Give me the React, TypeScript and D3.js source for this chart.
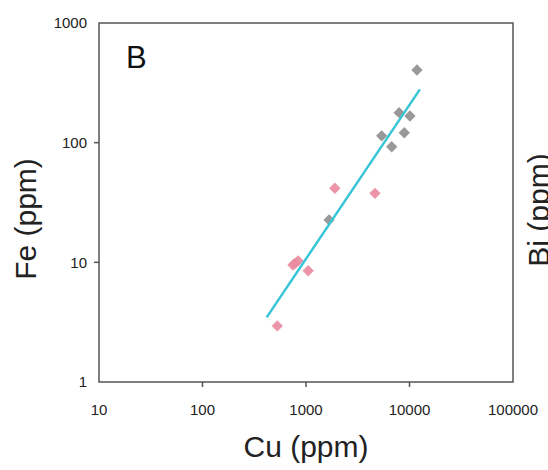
import React, { useEffect, useRef } from 'react';
import * as d3 from 'd3';

// Cu vs Fe (ppm), panel B
const grayCu = [11800, 7930, 10100, 8900, 5380, 6730, 1670];
const grayFe = [405, 178, 167, 121, 114, 92.5, 22.6];
const pinkCu = [1900, 4640, 748, 838, 783, 1050, 528];
const pinkFe = [41.6, 37.7, 9.5, 10.3, 9.8, 8.5, 2.94];
// power-law fit endpoints
const fitCu = [417, 12600];
const fitFe = [3.47, 279];

const xTicks = [10, 100, 1000, 10000, 100000];
const yTicks = [1, 10, 100, 1000];

const App = () => {
  const svgRef = useRef<SVGSVGElement>(null);

  useEffect(() => {
    const width = 548;
    const height = 470;
    const margin = { top: 23, right: 35, bottom: 88, left: 99 };

    const svg = d3.select(svgRef.current);
    svg.selectAll('*').remove();
    svg.attr('width', width).attr('height', height);

    const x = d3.scaleLog().domain([10, 100000]).range([margin.left, width - margin.right]);
    const y = d3.scaleLog().domain([1, 1000]).range([height - margin.bottom, margin.top]);

    const font = 'Liberation Sans, Arial, sans-serif';
    const axisColor = '#555';

    // frame
    svg.append('rect')
      .attr('x', x(10))
      .attr('y', y(1000))
      .attr('width', x(100000) - x(10))
      .attr('height', y(1) - y(1000))
      .attr('fill', 'none')
      .attr('stroke', axisColor)
      .attr('stroke-width', 1.5);

    // x ticks (interior only) + labels
    xTicks.forEach((t, i) => {
      if (i > 0 && i < xTicks.length - 1) {
        svg.append('line')
          .attr('x1', x(t)).attr('x2', x(t))
          .attr('y1', y(1)).attr('y2', y(1) + 5)
          .attr('stroke', axisColor).attr('stroke-width', 1.5);
      }
      svg.append('text')
        .attr('x', x(t))
        .attr('y', y(1) + 33)
        .attr('text-anchor', 'middle')
        .attr('font-family', font)
        .attr('font-size', 15)
        .attr('fill', '#222')
        .text(String(t));
    });

    // y ticks + labels
    yTicks.forEach((t, i) => {
      if (i > 0 && i < yTicks.length - 1) {
        svg.append('line')
          .attr('x1', x(10) - 5).attr('x2', x(10))
          .attr('y1', y(t)).attr('y2', y(t))
          .attr('stroke', axisColor).attr('stroke-width', 1.5);
      }
      svg.append('text')
        .attr('x', x(10) - 12)
        .attr('y', y(t))
        .attr('dy', '0.35em')
        .attr('text-anchor', 'end')
        .attr('font-family', font)
        .attr('font-size', 15)
        .attr('fill', '#222')
        .text(String(t));
    });

    const diamond = d3.symbol().type(d3.symbolSquare).size(64);

    const drawPoints = (xs: number[], ys: number[], color: string) => {
      svg.append('g')
        .selectAll('path')
        .data(xs.map((v, i) => [v, ys[i]]))
        .enter()
        .append('path')
        .attr('d', diamond)
        .attr('transform', d => `translate(${x(d[0])},${y(d[1])}) rotate(45)`)
        .attr('fill', color)
        .attr('opacity', 0.9);
    };
    drawPoints(grayCu, grayFe, '#8e8e8e');
    drawPoints(pinkCu, pinkFe, '#ea8a9e');

    const line = d3.line<number[]>()
      .x(d => x(d[0]))
      .y(d => y(d[1]));

    svg.append('path')
      .datum(fitCu.map((v, i) => [v, fitFe[i]]))
      .attr('fill', 'none')
      .attr('stroke', '#38c6d6')
      .attr('stroke-width', 2.5)
      .attr('d', line);

    // panel letter
    svg.append('text')
      .attr('x', 126)
      .attr('y', 68)
      .attr('font-family', font)
      .attr('font-size', 31)
      .attr('fill', '#111')
      .text('B');

    // axis titles
    svg.append('text')
      .attr('x', (x(10) + x(100000)) / 2)
      .attr('y', 457)
      .attr('text-anchor', 'middle')
      .attr('font-family', font)
      .attr('font-size', 30)
      .attr('fill', '#222')
      .text('Cu (ppm)');

    svg.append('text')
      .attr('transform', 'translate(36,219) rotate(-90)')
      .attr('text-anchor', 'middle')
      .attr('font-family', font)
      .attr('font-size', 30)
      .attr('fill', '#222')
      .text('Fe (ppm)');

    // neighbouring panel's title, cut off at the edge
    svg.append('text')
      .attr('transform', 'translate(549,210) rotate(-90)')
      .attr('text-anchor', 'middle')
      .attr('font-family', font)
      .attr('font-size', 30)
      .attr('fill', '#222')
      .text('Bi (ppm)');
  }, []);

  return (
    <svg ref={svgRef} style={{ position: 'absolute', left: 0, top: 0, background: '#fff' }}></svg>
  );
};

export default App;
